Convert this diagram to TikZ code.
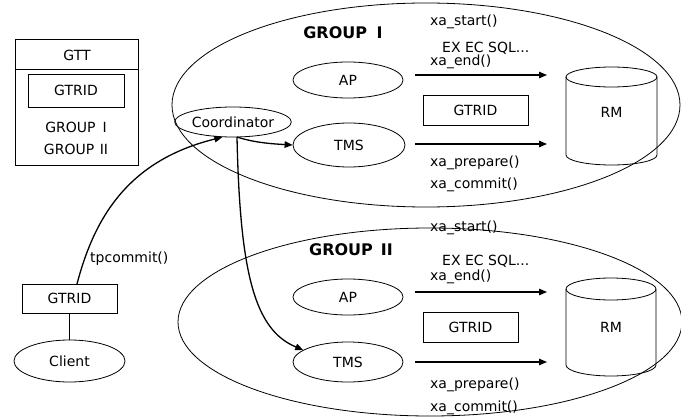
\documentclass[tikz,border=0pt]{standalone}
\usepackage{fontspec}
\setmainfont{DejaVu Sans}
\usetikzlibrary{shapes.geometric,arrows.meta}
\begin{document}
\begin{tikzpicture}[x=1pt,y=-1pt,
  font=\fontsize{14}{16}\selectfont,
  thinline/.style={line width=0.8pt},
  oval/.style={draw, ellipse, line width=0.8pt, inner sep=0pt},
  box/.style={draw, rectangle, line width=0.8pt, inner sep=0pt},
  arr/.style={line width=1.3pt, -{Triangle[length=8pt,width=6.5pt]}},
  lbl/.style={anchor=west, inner sep=0pt},
  grp/.style={font=\fontsize{16}{18}\selectfont\bfseries}]
\useasboundingbox (0,0) rectangle (681,420);

% group ellipses
\node[oval, minimum width=508pt, minimum height=204pt] (g1) at (426,105) {};
\node[oval, minimum width=504pt, minimum height=188pt] (g2) at (430,322) {};
\node[grp] (g1l) at (343,33) {GROUP\hspace{0.6em}I};
\node[grp] (g2l) at (351,250) {GROUP\hspace{0.5em}II};

% GTT table
\node[box, minimum width=123pt, minimum height=126pt] (gtt) at (76.5,102) {};
\coordinate (hl) at (0,69);
\draw[thinline] (gtt.west |- hl) -- (gtt.east |- hl);
\node (gttl) at (77,55) {GTT};
\node[box, minimum width=96pt, minimum height=33pt] (gtr) at (76,90.5) {GTRID};
\node (gt1) at (76,127) {GROUP\hspace{0.5em}I};
\node (gt2) at (76,149) {GROUP\hspace{0.4em}II};

% client
\node[box, minimum width=95pt, minimum height=29pt] (cbox) at (69.5,298.5) {GTRID};
\node[oval, minimum width=111pt, minimum height=42pt] (client) at (69.5,361) {Client};
\draw[thinline] (cbox) -- (client);

% processes
\node[oval, minimum width=110pt, minimum height=30pt] (coord) at (233,122) {Coordinator};
\node[oval, minimum width=110pt, minimum height=36pt] (ap1) at (348,80) {AP};
\node[oval, minimum width=112pt, minimum height=44pt] (tms1) at (349,145) {TMS};
\node[oval, minimum width=110pt, minimum height=36pt] (ap2) at (348,297) {AP};
\node[oval, minimum width=110pt, minimum height=40pt] (tms2) at (348,362) {TMS};

% tpcommit
\coordinate (cb) at (77,284);
\draw[arr] (cb) .. controls (95,215) and (130,160) .. (coord.235);
\node[lbl] (tpc) at (90,259) {tpcommit()};

% coordinator to TMS
\coordinate (cs) at (237,137);
\draw[arr] (cs) .. controls (255,143) and (275,144) .. (tms1.west);
\draw[arr] (cs) .. controls (240,275) and (255,330) .. (tms2.165);

% GTRID boxes
\node[box, minimum width=105pt, minimum height=30pt] (gb1) at (475.5,110) {GTRID};
\node[box, minimum width=95pt, minimum height=30pt] (gb2) at (470.5,327) {GTRID};

% RM cylinders
\draw[thinline] (566,77) -- (566,155) arc[start angle=180, end angle=0, x radius=45.5, y radius=10] -- (657,77);
\draw[thinline] (611.5,77) ellipse [x radius=45.5, y radius=10];
\node (rm1) at (611.5,112) {RM};
\draw[thinline] (566,289) -- (566,365) arc[start angle=180, end angle=0, x radius=45, y radius=11] -- (656,289);
\draw[thinline] (611,289) ellipse [x radius=45, y radius=11];
\node (rm2) at (611,327) {RM};

% xa arrows
\coordinate (a1s) at (415,75);  \coordinate (a1e) at (547,75);
\coordinate (a2s) at (415,144); \coordinate (a2e) at (547,144);
\coordinate (a3s) at (415,292); \coordinate (a3e) at (547,292);
\coordinate (a4s) at (415,362); \coordinate (a4e) at (547,362);
\draw[arr] (a1s) -- (a1e);
\draw[arr] (a2s) -- (a2e);
\draw[arr] (a3s) -- (a3e);
\draw[arr] (a4s) -- (a4e);

% labels group I
\node[lbl] (s1) at (430,22) {xa\_start()};
\node[lbl] (q1) at (442,48) {EX EC SQL...};
\node[lbl] (e1) at (430,62) {xa\_end()};
\node[lbl] (p1) at (430,163) {xa\_prepare()};
\node[lbl] (c1) at (430,185) {xa\_commit()};
% labels group II
\node[lbl] (s2) at (430,228) {xa\_start()};
\node[lbl] (q2) at (442,261) {EX EC SQL...};
\node[lbl] (e2) at (430,277) {xa\_end()};
\node[lbl] (p2) at (430,385) {xa\_prepare()};
\node[lbl] (c2) at (430,408) {xa\_commit()};
\end{tikzpicture}
\end{document}
